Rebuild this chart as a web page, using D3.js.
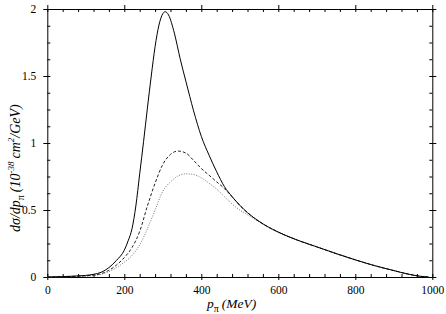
<!DOCTYPE html>
<html>
<head>
<meta charset="utf-8">
<script src="https://cdn.jsdelivr.net/npm/d3@7"></script>
<style>
  body { margin: 0; background: #fff; }
  svg text { font-family: 'Liberation Serif', 'Times New Roman', 'DejaVu Serif', serif !important; }
</style>
</head>
<body>
<div id="chart"></div>
<script>
/* dsigma/dp_pi vs p_pi, three model curves */

// momentum grid (MeV) and values (10^-38 cm^2/GeV)
const pSolid = [0, 40, 80, 100, 120, 140, 160, 180, 200, 210, 220, 230, 240, 250, 260, 270, 280, 290, 300, 306, 315, 330, 345, 360, 380, 400, 420, 440, 460, 480, 500, 520, 550, 600, 650, 700, 750, 800, 850, 900, 940, 970, 990];
const vSolid = [0, 0.003, 0.008, 0.012, 0.02, 0.035, 0.07, 0.125, 0.2, 0.27, 0.36, 0.53, 0.77, 1.01, 1.26, 1.5, 1.72, 1.88, 1.965, 1.98, 1.955, 1.82, 1.63, 1.46, 1.24, 1.05, 0.91, 0.785, 0.675, 0.6, 0.535, 0.48, 0.415, 0.335, 0.275, 0.225, 0.175, 0.128, 0.085, 0.048, 0.02, 0.005, 0];

const pDashed = [0, 40, 80, 100, 120, 140, 160, 180, 200, 220, 240, 260, 280, 300, 320, 340, 360, 380, 400, 420, 440, 460, 480, 500, 520, 550, 600, 650, 700, 750, 800, 850, 900, 940, 970, 990];
const vDashed = [0, 0.002, 0.006, 0.009, 0.014, 0.025, 0.05, 0.09, 0.145, 0.22, 0.34, 0.53, 0.70, 0.84, 0.915, 0.94, 0.925, 0.87, 0.81, 0.76, 0.71, 0.66, 0.598, 0.535, 0.48, 0.415, 0.335, 0.275, 0.225, 0.175, 0.128, 0.085, 0.048, 0.02, 0.005, 0];

const pDotted = [0, 40, 80, 100, 120, 140, 160, 180, 200, 220, 240, 260, 280, 300, 320, 340, 360, 380, 400, 420, 440, 460, 480, 500, 520, 550, 600, 650, 700, 750, 800, 850, 900, 940, 970, 990];
const vDotted = [0, 0.001, 0.004, 0.006, 0.01, 0.02, 0.04, 0.07, 0.11, 0.16, 0.24, 0.36, 0.50, 0.64, 0.71, 0.755, 0.77, 0.765, 0.74, 0.70, 0.655, 0.60, 0.545, 0.50, 0.465, 0.412, 0.333, 0.274, 0.224, 0.175, 0.128, 0.085, 0.048, 0.02, 0.005, 0];

const xTicks = [0, 200, 400, 600, 800, 1000];
const yTicks = [0, 0.5, 1, 1.5, 2];

const width = 446,
      height = 314,
      margin = ({ top: 9, right: 13.7, bottom: 37, left: 47.3 });

const serif = "'Liberation Serif', 'Times New Roman', serif";

let svg = d3.select("#chart")
    .append("svg")
    .attr("width", width)
    .attr("height", height);

let x = d3.scaleLinear()
    .domain([0, 1000])
    .range([margin.left, width - margin.right]);

let y = d3.scaleLinear()
    .domain([0, 2])
    .range([height - margin.bottom, margin.top]);

// minor ticks
const xMinor = d3.range(0, 1001, 40).filter(v => v % 200 !== 0);
const yMinor = d3.range(0, 2.001, 0.125).filter(v => Math.abs(v * 2 - Math.round(v * 2)) > 1e-6);

function styleAxis(g) {
    g.attr("font-family", null).style("font-family", serif);
    g.selectAll("path").attr("stroke", "#000");
    g.selectAll("line").attr("stroke", "#000");
    g.selectAll("text")
        .attr("font-size", 11.5)
        .attr("fill", "#000");
}

// major axes with labels (ticks cross the frame)
svg.append("g")
    .attr("transform", `translate(0,${y(0)})`)
    .call(d3.axisBottom(x).tickValues(xTicks).tickSizeInner(3).tickSizeOuter(0).tickPadding(6)
        .tickFormat(d3.format("d")))
    .call(styleAxis)
    .call(g => g.selectAll(".tick line").attr("y1", -3));

svg.append("g")
    .attr("transform", `translate(${x(0)},0)`)
    .call(d3.axisLeft(y).tickValues(yTicks).tickSizeInner(4).tickSizeOuter(0).tickPadding(7)
        .tickFormat(d => String(d)))
    .call(styleAxis)
    .call(g => g.selectAll(".tick line").attr("x1", 3));

svg.append("g")
    .attr("transform", `translate(0,${y(2)})`)
    .call(d3.axisTop(x).tickValues(xTicks).tickSizeInner(4).tickSizeOuter(0).tickFormat(""))
    .call(styleAxis)
    .call(g => g.selectAll(".tick line").attr("y1", 3));

svg.append("g")
    .attr("transform", `translate(${x(1000)},0)`)
    .call(d3.axisRight(y).tickValues(yTicks).tickSizeInner(4).tickSizeOuter(0).tickFormat(""))
    .call(styleAxis)
    .call(g => g.selectAll(".tick line").attr("x1", -3));

// minor ticks, pointing inward
svg.append("g")
    .attr("transform", `translate(0,${y(0)})`)
    .call(d3.axisBottom(x).tickValues(xMinor).tickSize(-3).tickFormat(""))
    .call(styleAxis)
    .call(g => g.select(".domain").remove());

svg.append("g")
    .attr("transform", `translate(0,${y(2)})`)
    .call(d3.axisTop(x).tickValues(xMinor).tickSize(-3).tickFormat(""))
    .call(styleAxis)
    .call(g => g.select(".domain").remove());

svg.append("g")
    .attr("transform", `translate(${x(0)},0)`)
    .call(d3.axisLeft(y).tickValues(yMinor).tickSize(-3).tickFormat(""))
    .call(styleAxis)
    .call(g => g.select(".domain").remove());

svg.append("g")
    .attr("transform", `translate(${x(1000)},0)`)
    .call(d3.axisRight(y).tickValues(yMinor).tickSize(-3).tickFormat(""))
    .call(styleAxis)
    .call(g => g.select(".domain").remove());

// curves
const line = d3.line()
    .x(d => x(d[0]))
    .y(d => y(d[1]))
    .curve(d3.curveMonotoneX);

const series = [
    { p: pDotted, v: vDotted, color: "#777", dash: "1,1.5" },
    { p: pDashed, v: vDashed, color: "#222", dash: "3,2" },
    { p: pSolid, v: vSolid, color: "#000", dash: null }
];

for (let s of series) {
    svg.append("path")
        .datum(d3.zip(s.p, s.v))
        .attr("fill", "none")
        .attr("stroke", s.color)
        .attr("stroke-width", 1)
        .attr("stroke-dasharray", s.dash)
        .attr("d", line);
}

// axis titles
let xt = svg.append("text")
    .attr("x", 207)
    .attr("y", 308)
    .style("font-family", serif)
    .attr("font-size", 13.5)
    .attr("font-style", "italic");
xt.append("tspan").text("p");
xt.append("tspan").attr("font-size", 10).attr("font-style", "normal").attr("dy", 4).text("π");
xt.append("tspan").attr("dy", -4).attr("dx", 3).text("(MeV)");

let yt = svg.append("text")
    .attr("transform", "translate(20,232) rotate(-90)")
    .style("font-family", serif)
    .attr("font-size", 14)
    .attr("font-style", "italic");
yt.append("tspan").text("dσ/dp");
yt.append("tspan").attr("font-size", 10).attr("font-style", "normal").attr("dy", 4).text("π");
yt.append("tspan").attr("dy", -4).attr("dx", 3).text("(10");
yt.append("tspan").attr("font-size", 9).attr("dy", -6).text("-38");
yt.append("tspan").attr("dy", 6).attr("dx", 3).text("cm");
yt.append("tspan").attr("font-size", 9).attr("dy", -6).text("2");
yt.append("tspan").attr("dy", 6).text("/GeV)");
</script>
</body>
</html>
